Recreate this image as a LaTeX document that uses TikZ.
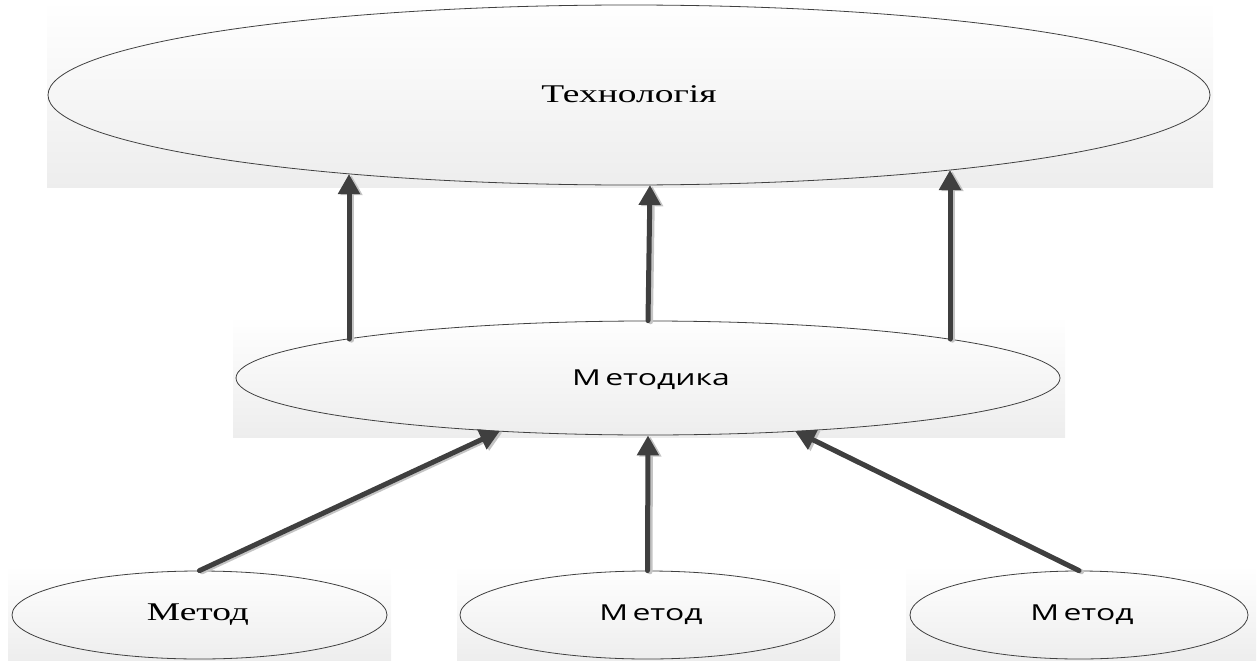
\documentclass[tikz,border=0pt]{standalone}
\usepackage{fontspec}
\setmainfont{Liberation Serif}
\newfontfamily\labelserif{Liberation Serif}
\newfontfamily\labelsans{Open Sans}
\usetikzlibrary{shapes.geometric,arrows.meta,calc}
\definecolor{edge}{HTML}{404040}
\definecolor{linkdark}{HTML}{3F3F3F}
\definecolor{linkshade}{HTML}{C4C4C4}
\tikzset{
  panel/.style={top color=white,bottom color=gray!14,draw=none},
  oval/.style={ellipse,draw=edge,line width=0.8pt,inner sep=0pt,fill=none},
  linkbase/.style={line width=5pt,line cap=round,-{Triangle[width=21pt,length=20pt]}},
  link/.style={linkbase,draw=linkdark,fill=linkdark},
  linkshadow/.style={linkbase,draw=linkshade,fill=linkshade,transform canvas={xshift=2.5pt,yshift=-1.2pt}},
  seriflabel/.style={font=\labelserif\fontsize{25.5}{30}\selectfont},
  sanslabel/.style={font=\labelsans\fontsize{22}{26}\selectfont}
}
\newcommand{\widetext}[1]{\scalebox{1.45}[1]{#1}}
\newcommand{\wideserif}[1]{\scalebox{1.47}[1]{#1}}
\begin{document}
\begin{tikzpicture}[x=1pt,y=-1pt]
\useasboundingbox (0,0) rectangle (1258,661);

% shaded panels behind the ovals
\fill[panel] (47,0) rectangle (1213,187);
\fill[panel] (233,316) rectangle (1065,437);
\fill[panel] (8,566) rectangle (391,661);
\fill[panel] (457,566) rectangle (840,661);
\fill[panel] (906,566) rectangle (1256,661);

% ovals
\node[oval,minimum width=1162pt,minimum height=180pt] (tech) at (629,95) {};
\node[oval,minimum width=824pt,minimum height=114pt] (meth) at (648,378) {};
\node[oval,minimum width=375pt,minimum height=88pt] (m1) at (199.5,615) {};
\node[oval,minimum width=375pt,minimum height=88pt] (m2) at (647.5,615) {};
\node[oval,minimum width=338pt,minimum height=88pt] (m3) at (1079,615) {};

% labels
\node[seriflabel] (ltech) at (629,94) {\wideserif{Технологія}};
\node[sanslabel] (lmeth) at (651,380) {\widetext{М\kern3pt етодика}};
\node[seriflabel] (lm1) at (198,615) {\wideserif{Метод}};
\node[sanslabel] (lm2) at (651,615) {\widetext{М\kern3pt етод}};
\node[sanslabel] (lm3) at (1082,615) {\widetext{М\kern3pt етод}};

% connectors: shadows first, then the dark strokes
% (end points lie on the oval borders, given relative to the oval centres)
\foreach \s in {linkshadow,link}{
  \draw[\s] ($(meth.center)+(-299,-39)$) -- ($(tech.center)+(-280,79)$);
  \draw[\s] (meth.north) -- ($(tech.center)+(21,90)$);
  \draw[\s] ($(meth.center)+(302,-39)$) -- ($(tech.center)+(321,75)$);
  \draw[\s] (m1.north) -- ($(meth.center)+(-148,53)$);
  \draw[\s] (m2.north) -- (meth.south);
  \draw[\s] (m3.north) -- ($(meth.center)+(147,53)$);
}
\end{tikzpicture}
\end{document}
